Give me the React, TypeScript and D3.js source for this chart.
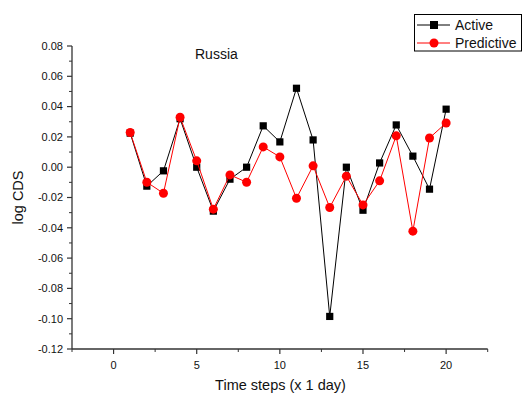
import React from "react";
import * as d3 from "d3";

const steps = [1, 2, 3, 4, 5, 6, 7, 8, 9, 10, 11, 12, 13, 14, 15, 16, 17, 18, 19, 20];
const activeValues = [0.0225, -0.0125, -0.0024, 0.032, 0.0, -0.029, -0.0079, 0.0, 0.0273, 0.0167, 0.0521, 0.018, -0.0985, 0.0, -0.0284, 0.0028, 0.0279, 0.0073, -0.0145, 0.0383];
const predictiveValues = [0.0229, -0.0099, -0.0172, 0.033, 0.0042, -0.0277, -0.0051, -0.0099, 0.0134, 0.0068, -0.0205, 0.0009, -0.0266, -0.0059, -0.0249, -0.009, 0.0207, -0.0422, 0.0193, 0.0292];
const xTicks = [0, 5, 10, 15, 20];
const xMinorTicks = [-2.5, 2.5, 7.5, 12.5, 17.5, 22.5];
const yTicks = [0.08, 0.06, 0.04, 0.02, 0.0, -0.02, -0.04, -0.06, -0.08, -0.1, -0.12];
const yMinorTicks = [0.07, 0.05, 0.03, 0.01, -0.01, -0.03, -0.05, -0.07, -0.09, -0.11];
const seriesNames = ["Active", "Predictive"];
const titleText = "Russia";

const FONT = "'Liberation Sans', Arial, sans-serif";
const AXIS = "#333";

export default function App() {
  const x = d3.scaleLinear().domain([-2.5, 22.5]).range([72, 487.7]);
  const y = d3.scaleLinear().domain([-0.12, 0.08]).range([349, 46]);
  const line = d3
    .line<number>()
    .x((_, i) => x(steps[i]))
    .y((d) => y(d));
  const x0 = x.range()[0];
  const y0 = y.range()[0];
  return (
    <svg
      width={523}
      height={394}
      style={{ position: "absolute", left: 0, top: 0, background: "#fff" }}
      fontFamily={FONT}
    >
      <rect x={0} y={0} width={523} height={394} fill="#fff" />
      {/* Axes */}
      <line x1={x0} x2={x0} y1={y(0.08)} y2={y0} stroke={AXIS} strokeWidth={1.3} />
      <line x1={x0} x2={x.range()[1]} y1={y0} y2={y0} stroke={AXIS} strokeWidth={1.3} />
      {yTicks.map((t) => (
        <g key={"yt" + t}>
          <line x1={x0 - 5} x2={x0} y1={y(t)} y2={y(t)} stroke={AXIS} strokeWidth={1.2} />
          <text x={x0 - 9} y={y(t)} dy="0.35em" textAnchor="end" fontSize={11} fill="#111">
            {t.toFixed(2)}
          </text>
        </g>
      ))}
      {yMinorTicks.map((t) => (
        <line key={"ym" + t} x1={x0 - 3} x2={x0} y1={y(t)} y2={y(t)} stroke={AXIS} strokeWidth={1} />
      ))}
      {xTicks.map((t) => (
        <g key={"xt" + t}>
          <line x1={x(t)} x2={x(t)} y1={y0} y2={y0 + 5} stroke={AXIS} strokeWidth={1.2} />
          <text x={x(t)} y={y0 + 20} textAnchor="middle" fontSize={11} fill="#111">
            {t}
          </text>
        </g>
      ))}
      {xMinorTicks.map((t) => (
        <line key={"xm" + t} x1={x(t)} x2={x(t)} y1={y0} y2={y0 + 3} stroke={AXIS} strokeWidth={1} />
      ))}
      {/* Axis labels */}
      <text x={280.5} y={390} textAnchor="middle" fontSize={14.5} fill="#111">
        Time steps (x 1 day)
      </text>
      <text
        transform={`translate(23, ${y(-0.02)}) rotate(-90)`}
        textAnchor="middle"
        fontSize={14.5}
        fill="#111"
      >
        log CDS
      </text>
      <text x={195} y={59} fontSize={14} fill="#111">
        {titleText}
      </text>
      {/* Active series */}
      <path d={line(activeValues) || ""} fill="none" stroke="#000" strokeWidth={1} />
      {activeValues.map((v, i) => (
        <rect key={"a" + i} x={x(steps[i]) - 3.6} y={y(v) - 3.6} width={7.2} height={7.2} fill="#000" />
      ))}
      {/* Predictive series */}
      <path d={line(predictiveValues) || ""} fill="none" stroke="#ff0000" strokeWidth={1} />
      {predictiveValues.map((v, i) => (
        <circle key={"p" + i} cx={x(steps[i])} cy={y(v)} r={4.5} fill="#ff0000" />
      ))}
      {/* Legend */}
      <rect x={414.5} y={14.5} width={107} height={36.5} fill="#fff" stroke="#000" strokeWidth={1} />
      <line x1={417} x2={450} y1={25} y2={25} stroke="#000" strokeWidth={1} />
      <rect x={430} y={21} width={8} height={8} fill="#000" />
      <text x={455} y={25} dy="0.35em" fontSize={14} fill="#111">
        {seriesNames[0]}
      </text>
      <line x1={417} x2={450} y1={43} y2={43} stroke="#ff0000" strokeWidth={1} />
      <circle cx={434} cy={43} r={4.5} fill="#ff0000" />
      <text x={455} y={43} dy="0.35em" fontSize={14} fill="#111">
        {seriesNames[1]}
      </text>
    </svg>
  );
}
